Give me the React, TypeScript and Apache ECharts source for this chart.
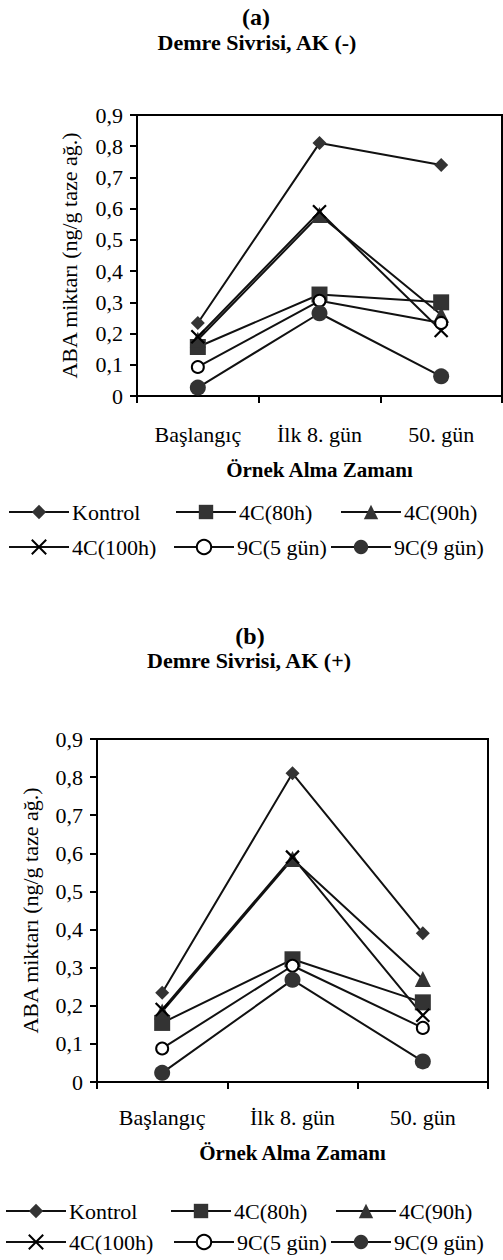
import React, { useEffect, useRef } from "react";
import * as echarts from "echarts";

const categories = ["Başlangıç", "İlk 8. gün", "50. gün"];
const seriesNames = ["Kontrol", "4C(80h)", "4C(90h)", "4C(100h)", "9C(5 gün)", "9C(9 gün)"];

// Chart (a): Demre Sivrisi, AK (-)
const kontrolA = [0.234, 0.81, 0.74];
const c80A = [0.157, 0.325, 0.3];
const c90A = [0.18, 0.58, 0.26];
const c100A = [0.19, 0.59, 0.21];
const c5A = [0.093, 0.305, 0.234];
const c9A = [0.027, 0.265, 0.063];

// Chart (b): Demre Sivrisi, AK (+)
const kontrolB = [0.234, 0.81, 0.39];
const c80B = [0.155, 0.322, 0.209];
const c90B = [0.185, 0.585, 0.27];
const c100B = [0.19, 0.59, 0.175];
const c5B = [0.088, 0.305, 0.142];
const c9B = [0.024, 0.268, 0.054];

const FONT = "Liberation Serif";
const MARK = "#333";

const symbols = [
  { symbol: "diamond", size: 14, itemStyle: { color: MARK } },
  { symbol: "rect", size: 16, itemStyle: { color: MARK } },
  { symbol: "triangle", size: 16, itemStyle: { color: MARK } },
  {
    symbol: "path://M0,0L10,10M10,0L0,10",
    size: 13,
    itemStyle: { color: "none", borderColor: "#000", borderWidth: 2.2 },
  },
  { symbol: "emptyCircle", size: 12, itemStyle: { color: "#000", borderWidth: 3 } },
  { symbol: "circle", size: 16, itemStyle: { color: MARK } },
];

const fmt = (v: number) => (v === 0 ? "0" : v.toFixed(1).replace(".", ","));

export default function App() {
  const ref = useRef<HTMLDivElement>(null);
  useEffect(() => {
    document.body.style.margin = "0";
    const chart = echarts.init(ref.current!, null, { renderer: "svg" });
    const dataA = [kontrolA, c80A, c90A, c100A, c5A, c9A];
    const dataB = [kontrolB, c80B, c90B, c100B, c5B, c9B];

    const mkSeries = (idx: number, data: number[][]) =>
      seriesNames.map((name, i) => ({
        type: "line",
        name,
        xAxisIndex: idx,
        yAxisIndex: idx,
        data: data[i],
        symbol: symbols[i].symbol,
        symbolSize: symbols[i].size,
        itemStyle: symbols[i].itemStyle,
        lineStyle: { color: "#111", width: 2 },
        z: 3,
      }));

    const mkX = (idx: number, labelMargin: number, nameGap: number) => ({
      type: "category",
      gridIndex: idx,
      data: categories,
      boundaryGap: true,
      axisLine: { show: true, lineStyle: { color: "#000", width: 2 } },
      axisTick: { show: true, length: 7, lineStyle: { color: "#000", width: 2 } },
      axisLabel: { color: "#000", fontFamily: FONT, fontSize: 22, margin: labelMargin },
      name: "Örnek Alma Zamanı",
      nameLocation: "middle",
      nameGap,
      nameTextStyle: { color: "#000", fontFamily: FONT, fontSize: 21, fontWeight: "bold" },
    });

    const mkY = (idx: number, nameGap: number) => ({
      type: "value",
      gridIndex: idx,
      min: 0,
      max: 0.9,
      interval: 0.1,
      splitLine: { show: false },
      axisLine: { show: true, lineStyle: { color: "#000", width: 2 } },
      axisTick: { show: true, length: 7, lineStyle: { color: "#000", width: 2 } },
      axisLabel: { color: "#000", fontFamily: FONT, fontSize: 22, margin: 14, formatter: fmt },
      name: "ABA miktarı (ng/g taze ağ.)",
      nameLocation: "middle",
      nameRotate: 90,
      nameGap,
      nameTextStyle: { color: "#000", fontFamily: FONT, fontSize: 22 },
    });

    const legendPos = [
      // chart a
      [8, 501], [175, 501], [340, 501], [8, 536], [173, 536], [330, 536],
      // chart b
      [5, 1200], [170, 1200], [335, 1200], [5, 1231], [173, 1231], [330, 1231],
    ];
    const legends = legendPos.map((p, k) => ({
      data: [seriesNames[k % 6]],
      left: p[0],
      top: p[1],
      padding: 0,
      itemWidth: 60,
      itemHeight: 18,
      itemGap: 0,
      textStyle: { color: "#000", fontFamily: FONT, fontSize: 22, padding: [0, 0, 0, -2] },
      selectedMode: false,
    }));

    const titleText = (text: string, x: number, y: number, size: number) => ({
      type: "text",
      x,
      y,
      style: {
        text,
        fill: "#000",
        font: `bold ${size}px "${FONT}"`,
        textAlign: "center",
        textVerticalAlign: "middle",
      },
    });

    chart.setOption({
      animation: false,
      backgroundColor: "#fff",
      graphic: [
        titleText("(a)", 256, 17, 24),
        titleText("Demre Sivrisi, AK (-)", 257, 42, 22),
        titleText("(b)", 250, 636, 24),
        titleText("Demre Sivrisi, AK (+)", 249, 660, 22),
      ],
      grid: [
        { left: 137, top: 115, width: 365, height: 281, show: true, borderColor: "#000", borderWidth: 2 },
        { left: 97, top: 739, width: 391, height: 343, show: true, borderColor: "#000", borderWidth: 2 },
      ],
      xAxis: [mkX(0, 27, 63), mkX(1, 24, 60)],
      yAxis: [mkY(0, 57), mkY(1, 56)],
      legend: legends,
      series: [...mkSeries(0, dataA), ...mkSeries(1, dataB)],
    });
    return () => chart.dispose();
  }, []);
  return <div ref={ref} style={{ width: 503, height: 1260 }} />;
}
